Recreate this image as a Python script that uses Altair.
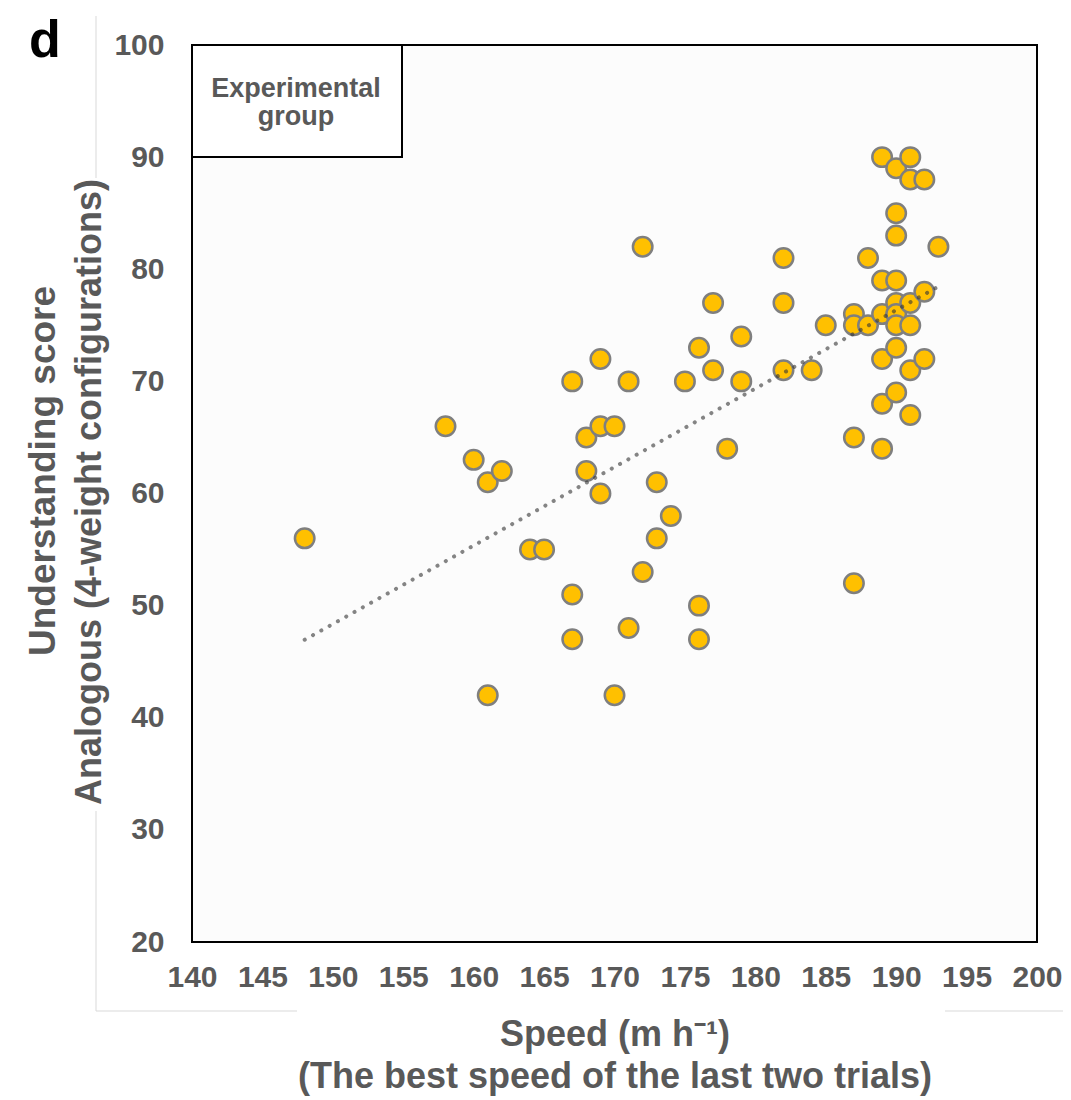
import altair as alt
import pandas as pd

# ---- data ----
speed = [148, 158, 160, 161, 161, 162, 164, 165, 167, 167, 167, 168, 168, 169, 169, 169,
         170, 170, 171, 171, 172, 172, 173, 173, 174, 175, 176, 176, 176, 177, 177, 178,
         179, 179, 182, 182, 182, 184, 185, 187, 187, 187, 187, 188, 188, 189, 189, 189,
         189, 189, 189, 190, 190, 190, 190, 190, 190, 190, 190, 190, 191, 191, 191, 191,
         191, 191, 192, 192, 192, 193]
score = [56, 66, 63, 61, 42, 62, 55, 55, 70, 51, 47, 65, 62, 72, 66, 60,
         66, 42, 70, 48, 82, 53, 61, 56, 58, 70, 73, 50, 47, 77, 71, 64,
         74, 70, 81, 77, 71, 71, 75, 76, 75, 65, 52, 81, 75, 90, 79, 76,
         72, 68, 64, 89, 85, 83, 79, 77, 76, 75, 73, 69, 90, 88, 77, 75,
         71, 67, 88, 78, 72, 82]
x_ticks = [140, 145, 150, 155, 160, 165, 170, 175, 180, 185, 190, 195, 200]
y_ticks = [20, 30, 40, 50, 60, 70, 80, 90, 100]
x_title = ["Speed (m h\u207b\u00b9)", "(The best speed of the last two trials)"]
y_title_1 = "Understanding score"
y_title_2 = "Analogous (4-weight configurations)"
box_text = "Experimental\ngroup"
panel_letter = "d"

df = pd.DataFrame({"speed": speed, "score": score})

FONT = "Liberation Sans"
GRAY = "#595959"

xscale = alt.Scale(domain=[140, 200], nice=False, zero=False)
yscale = alt.Scale(domain=[20, 100], nice=False, zero=False)

x_axis = alt.Axis(values=x_ticks, title=x_title, grid=False, ticks=False, domain=False,
                  labelFont=FONT, labelFontSize=30, labelFontWeight="bold", labelColor=GRAY,
                  labelPadding=20, labelFlush=False,
                  titleFont=FONT, titleFontSize=36, titleFontWeight="bold", titleColor=GRAY,
                  titlePadding=25, titleLineHeight=42)
y_axis = alt.Axis(values=y_ticks, title="", grid=False, ticks=False, domain=False,
                  labelFont=FONT, labelFontSize=30, labelFontWeight="bold", labelColor=GRAY,
                  labelPadding=28, labelFlush=False)

base = alt.Chart(df)

points = base.mark_circle(size=380, fill="#FFC000", stroke="#7f7f7f", strokeWidth=2.5,
                          opacity=1, fillOpacity=1).encode(
    x=alt.X("speed:Q", scale=xscale, axis=x_axis),
    y=alt.Y("score:Q", scale=yscale, axis=y_axis),
)

trend = base.transform_regression("speed", "score", extent=[148, 193]).mark_line(
    color="#333333", opacity=0.6, strokeWidth=4, strokeDash=[0.1, 9.4], strokeCap="round"
).encode(
    x=alt.X("speed:Q", scale=xscale),
    y=alt.Y("score:Q", scale=yscale),
)

one = alt.Chart(alt.Data(values=[{}]))

ytitle1 = one.mark_text(text=y_title_1, font=FONT, fontSize=37, fontWeight="bold", color=GRAY,
                        angle=270, align="center", baseline="alphabetic").encode(
    x=alt.value(-137), y=alt.value(426)
)
ytitle2 = one.mark_text(text=y_title_2, font=FONT, fontSize=36, fontWeight="bold", color=GRAY,
                        angle=270, align="center", baseline="alphabetic").encode(
    x=alt.value(-91), y=alt.value(447)
)

box = one.mark_rect(fill="white", stroke="black", strokeWidth=2).encode(
    x=alt.value(0), x2=alt.value(210), y=alt.value(0), y2=alt.value(112)
)
box_label = one.mark_text(text=box_text, lineBreak="\n", lineHeight=28, font=FONT, fontSize=27,
                          fontWeight="bold", color=GRAY, align="center",
                          baseline="alphabetic").encode(
    x=alt.value(104), y=alt.value(52)
)
letter = one.mark_text(text=panel_letter, font=FONT, fontSize=52, fontWeight="bold",
                       color="black", align="left", baseline="alphabetic").encode(
    x=alt.value(-163), y=alt.value(12)
)

frame_color = "#d9d9d9"
fr1 = one.mark_rule(color=frame_color, strokeWidth=1).encode(
    x=alt.value(-96), y=alt.value(-29), y2=alt.value(133))
fr2 = one.mark_rule(color=frame_color, strokeWidth=1).encode(
    x=alt.value(-96), y=alt.value(766), y2=alt.value(966))
fr3 = one.mark_rule(color=frame_color, strokeWidth=1).encode(
    x=alt.value(-96), x2=alt.value(105), y=alt.value(966))
fr4 = one.mark_rule(color=frame_color, strokeWidth=1).encode(
    x=alt.value(753), x2=alt.value(880), y=alt.value(966))

chart = alt.layer(points, trend, box, box_label, letter, ytitle1, ytitle2,
                  fr1, fr2, fr3, fr4).properties(
    width=845, height=897,
    autosize=alt.AutoSizeParams(type="none"),
    padding={"left": 184, "top": 37, "right": 26, "bottom": 156},
    background="white",
).configure_view(fill="#FCFCFC", stroke="black", strokeWidth=2)

chart.save("out.html", embed_options={"renderer": "svg", "actions": False})
